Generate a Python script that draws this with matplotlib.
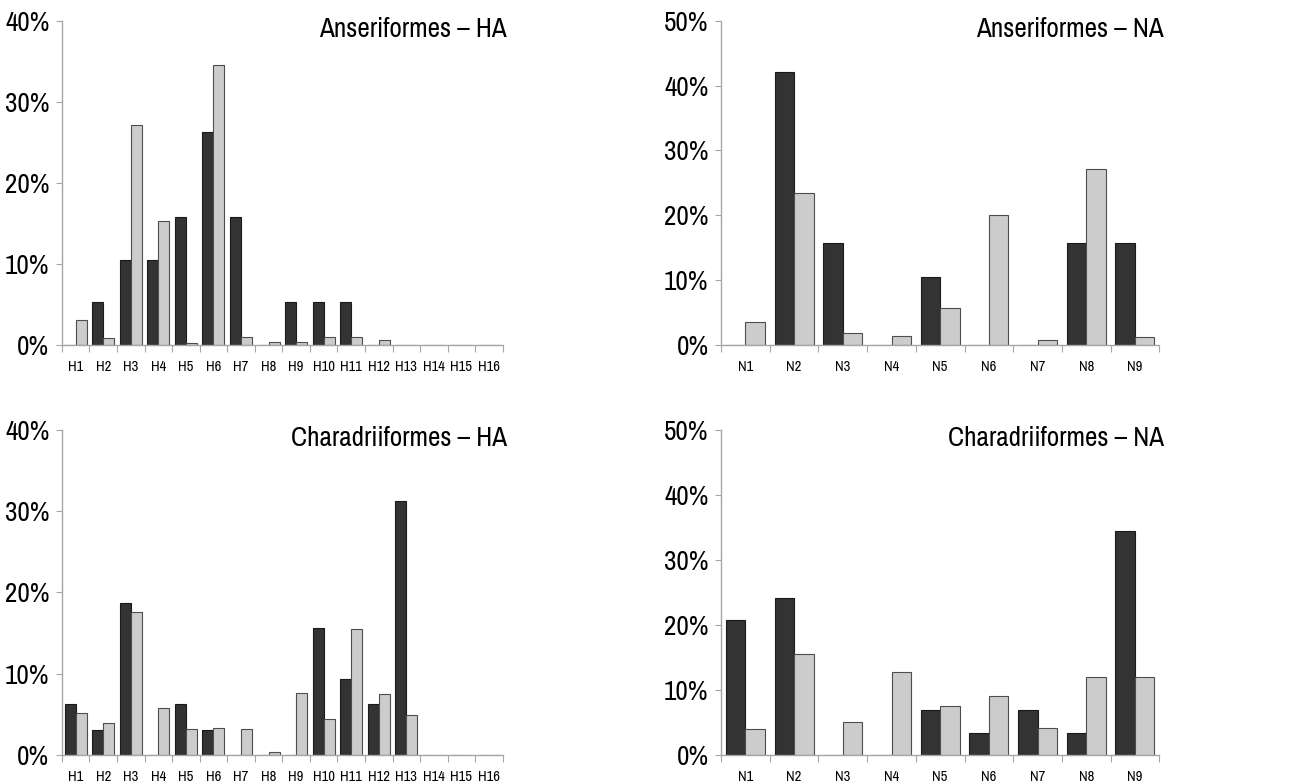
import numpy as np
import matplotlib.pyplot as plt
from matplotlib.ticker import PercentFormatter

plt.rcParams['font.family'] = ['Archivo Narrow', 'Roboto Condensed', 'Liberation Sans', 'DejaVu Sans']

ha_labels = ['H%d' % i for i in range(1, 17)]
na_labels = ['N%d' % i for i in range(1, 10)]

# percentages per haplotype, dark = first series, light = second series
anser_ha_dark = [0, 5.3, 10.5, 10.5, 15.8, 26.3, 15.8, 0, 5.3, 5.3, 5.3, 0, 0, 0, 0, 0]
anser_ha_light = [3.1, 0.9, 27.2, 15.3, 0.25, 34.5, 1.0, 0.4, 0.4, 1.0, 1.0, 0.6, 0, 0, 0, 0]

anser_na_dark = [0, 42.1, 15.8, 0, 10.5, 0, 0, 15.8, 15.8]
anser_na_light = [3.6, 23.5, 1.85, 1.4, 5.7, 20.0, 0.8, 27.2, 1.3]

chara_ha_dark = [6.25, 3.1, 18.75, 0, 6.25, 3.1, 0, 0, 0, 15.6, 9.4, 6.25, 31.25, 0, 0, 0]
chara_ha_light = [5.15, 3.9, 17.6, 5.8, 3.25, 3.35, 3.25, 0.35, 7.6, 4.4, 15.5, 7.5, 4.9, 0, 0, 0]

chara_na_dark = [20.7, 24.1, 0, 0, 6.9, 3.45, 6.9, 3.45, 34.5]
chara_na_light = [4.05, 15.5, 5.0, 12.8, 7.5, 9.0, 4.2, 12.05, 12.05]

panels = [
    ('Anseriformes – HA', ha_labels, anser_ha_dark, anser_ha_light, 40,
     [0.0475, 0.5594, 0.338, 0.414]),
    ('Anseriformes – NA', na_labels, anser_na_dark, anser_na_light, 50,
     [0.553, 0.5594, 0.336, 0.414]),
    ('Charadriiformes – HA', ha_labels, chara_ha_dark, chara_ha_light, 40,
     [0.0475, 0.0358, 0.338, 0.415]),
    ('Charadriiformes – NA', na_labels, chara_na_dark, chara_na_light, 50,
     [0.553, 0.0358, 0.336, 0.415]),
]

fig = plt.figure(figsize=(13.04, 7.83), dpi=100)
axis_grey = '#a6a6a6'

for title, labels, dark, light, ymax, rect in panels:
    ax = fig.add_axes(rect)
    x = np.arange(len(labels))
    w = 0.4
    ax.bar(x - w / 2, dark, w, color='#333333', edgecolor='#1a1a1a', linewidth=0.8)
    ax.bar(x + w / 2, light, w, color='#cccccc', edgecolor='#4d4d4d', linewidth=0.8)

    ax.set_xlim(-0.5, len(labels) - 0.5)
    ax.set_ylim(0, ymax)
    ax.set_yticks(np.arange(0, ymax + 1, 10))
    ax.yaxis.set_major_formatter(PercentFormatter(decimals=0))
    # tick marks sit between the groups, labels sit under each group
    ax.set_xticks(np.arange(-0.5, len(labels), 1.0))
    ax.set_xticklabels([])
    ax.set_xticks(x, minor=True)
    ax.set_xticklabels(labels, minor=True, fontsize=10.5)

    for side in ['top', 'right']:
        ax.spines[side].set_visible(False)
    for side in ['left', 'bottom']:
        ax.spines[side].set_color(axis_grey)
        ax.spines[side].set_linewidth(1.0)

    ax.tick_params(axis='y', which='major', length=4, color=axis_grey,
                   labelsize=19.5, pad=5)
    ax.tick_params(axis='x', which='major', length=5, color=axis_grey)
    ax.tick_params(axis='x', which='minor', length=0, pad=11)

    ax.text(1.01, 1.012, title, transform=ax.transAxes, ha='right', va='top',
            fontsize=19.5)

fig.savefig('out.png', dpi=100)
